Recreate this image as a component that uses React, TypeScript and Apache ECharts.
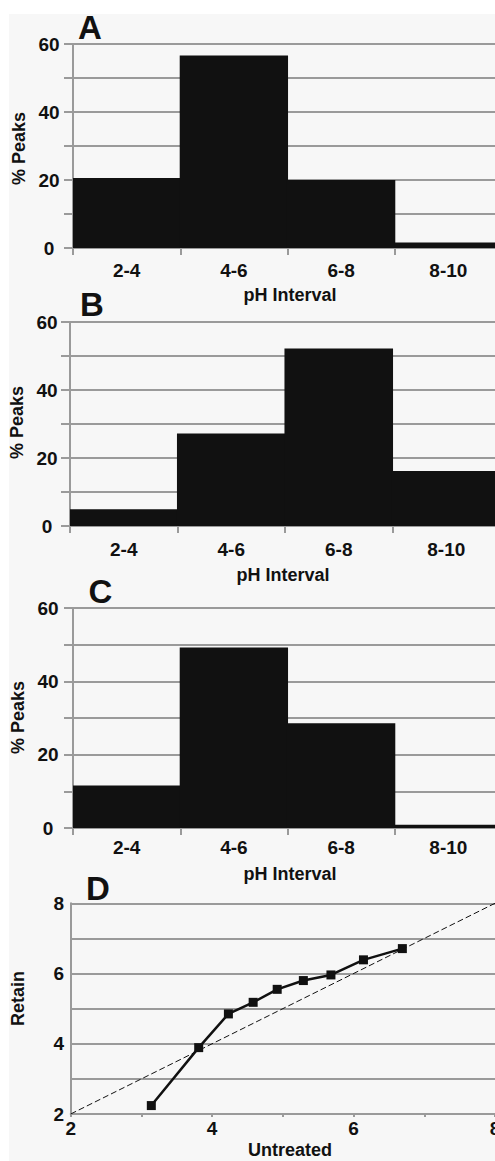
import React, { useEffect, useRef } from "react";
import * as echarts from "echarts";

const categories = ["2-4", "4-6", "6-8", "8-10"];
const peaksA = [20.6, 56.6, 20.0, 1.6];
const peaksB = [4.9, 27.2, 52.2, 16.2];
const peaksC = [11.6, 49.2, 28.6, 0.9];
const untreated = [3.14, 3.81, 4.23, 4.58, 4.92, 5.29, 5.68, 6.14, 6.69];
const retain = [2.24, 3.89, 4.85, 5.18, 5.55, 5.8, 5.96, 6.39, 6.71];
const identityLine = [
  [2, 2],
  [8, 8],
];
const panelLetters = ["A", "B", "C", "D"];
const barAxisName = "pH Interval";
const barYName = "% Peaks";
const lineXName = "Untreated";
const lineYName = "Retain";

const FONT = '"Liberation Sans", Arial, Helvetica, sans-serif';
const GRID_COLOR = "#9a9a9a";
const INK = "#111111";

export default function App() {
  const ref = useRef<HTMLDivElement>(null);

  useEffect(() => {
    document.body.style.margin = "0";
    document.body.style.overflow = "hidden";
    if (!ref.current) return;
    const chart = echarts.init(ref.current, undefined, { renderer: "svg" });

    const grids = [
      { left: 73, top: 44, width: 429, height: 204 },
      { left: 70, top: 322, width: 430, height: 204 },
      { left: 73, top: 608, width: 429, height: 220 },
      { left: 70.7, top: 903.3, width: 424.3, height: 210.7 },
    ].map((g) => ({ ...g, containLabel: false, outerBoundsMode: "none" }));
    const barData = [peaksA, peaksB, peaksC];
    const xLabelMargin = [13, 14, 10];
    const yLabelMargin = [24, 23, 25];

    const labelStyle = {
      fontSize: 19,
      fontWeight: "bold" as const,
      color: INK,
      fontFamily: FONT,
    };
    const lineStyle = { color: GRID_COLOR, width: 2 };

    const xAxis: any[] = [];
    const yAxis: any[] = [];
    const series: any[] = [];

    barData.forEach((d, i) => {
      xAxis.push({
        gridIndex: i,
        type: "category",
        data: categories,
        axisLine: { show: true, lineStyle },
        axisTick: { show: true, length: 7, lineStyle },
        axisLabel: { ...labelStyle, margin: xLabelMargin[i] },
        splitLine: { show: false },
      });
      yAxis.push({
        gridIndex: i,
        type: "value",
        min: 0,
        max: 60,
        interval: 10,
        axisLine: { show: true, lineStyle },
        axisTick: { show: true, length: 9, lineStyle },
        axisLabel: {
          ...labelStyle,
          align: "center",
          margin: yLabelMargin[i],
          formatter: (v: number) => (v % 20 === 0 ? String(v) : ""),
        },
        splitLine: { show: true, lineStyle },
      });
      series.push({
        type: "bar",
        xAxisIndex: i,
        yAxisIndex: i,
        data: d,
        barWidth: "101%",
        itemStyle: { color: INK },
      });
    });

    xAxis.push({
      gridIndex: 3,
      type: "value",
      min: 2,
      max: 8,
      interval: 1,
      axisLine: { show: true, lineStyle },
      axisTick: { show: true, length: 3, lineStyle },
      axisLabel: {
        ...labelStyle,
        margin: 5,
        formatter: (v: number) => (v % 2 === 0 ? String(v) : ""),
      },
      splitLine: { show: false },
    });
    yAxis.push({
      gridIndex: 3,
      type: "value",
      min: 2,
      max: 8,
      interval: 1,
      axisLine: { show: true, lineStyle },
      axisTick: { show: false },
      axisLabel: {
        ...labelStyle,
        align: "center",
        margin: 12,
        formatter: (v: number) => (v % 2 === 0 ? String(v) : ""),
      },
      splitLine: { show: true, lineStyle },
    });
    series.push({
      type: "line",
      xAxisIndex: 3,
      yAxisIndex: 3,
      data: identityLine,
      symbol: "none",
      lineStyle: { color: INK, width: 1, type: [6, 3] },
      z: 3,
    });
    series.push({
      type: "line",
      xAxisIndex: 3,
      yAxisIndex: 3,
      data: untreated.map((x, i) => [x, retain[i]]),
      symbol: "rect",
      symbolSize: 9,
      lineStyle: { color: INK, width: 2.5 },
      itemStyle: { color: INK },
      z: 4,
    });

    const txt = (
      text: string,
      x: number,
      y: number,
      size: number,
      rotate = false
    ) => ({
      type: "text",
      x,
      y,
      rotation: rotate ? Math.PI / 2 : 0,
      silent: true,
      style: {
        text,
        fill: INK,
        fontSize: size,
        fontWeight: "bold",
        fontFamily: FONT,
        font: `bold ${size}px ${FONT}`,
        align: "center",
        verticalAlign: "middle",
        textAlign: "center",
        textVerticalAlign: "middle",
      },
    });

    const letterPos = [
      [90, 27.5],
      [92, 304],
      [100.5, 591.7],
      [98, 888.5],
    ];

    const graphic: any[] = [
      { type: "rect", shape: { x: 0, y: 0, width: 495, height: 14 }, style: { fill: "#ffffff" }, silent: true },
      { type: "rect", shape: { x: 0, y: 0, width: 9, height: 1161 }, style: { fill: "#ffffff" }, silent: true },
    ];
    panelLetters.forEach((l, i) => graphic.push(txt(l, letterPos[i][0], letterPos[i][1], 33)));
    graphic.push(txt(barAxisName, 290, 295, 18));
    graphic.push(txt(barAxisName, 283, 575, 18));
    graphic.push(txt(barAxisName, 290, 873.5, 18));
    graphic.push(txt(lineXName, 290, 1150, 18));
    graphic.push(txt(barYName, 19, 148.5, 18, true));
    graphic.push(txt(barYName, 17, 422.5, 18, true));
    graphic.push(txt(barYName, 18, 717.5, 18, true));
    graphic.push(txt(lineYName, 18, 998.5, 18, true));

    chart.setOption({
      animation: false,
      backgroundColor: "#f7f7f7",
      grid: grids,
      xAxis,
      yAxis,
      series,
      graphic,
    });

    return () => chart.dispose();
  }, []);

  return (
    <div
      ref={ref}
      style={{
        position: "absolute",
        left: 0,
        top: 0,
        width: 495,
        height: 1161,
        overflow: "hidden",
      }}
    />
  );
}
